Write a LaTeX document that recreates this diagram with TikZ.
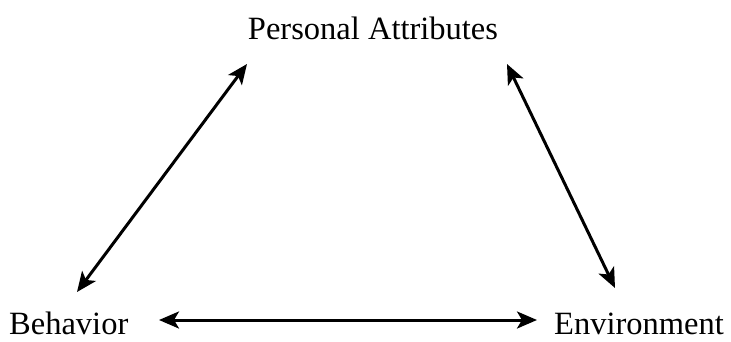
\documentclass[tikz,border=0pt]{standalone}
\usepackage{fontspec}
\setmainfont{Liberation Serif}
\usetikzlibrary{arrows.meta}
\begin{document}
\begin{tikzpicture}[x=1pt,y=-1pt,
  lbl/.style={font=\fontsize{32.5}{38}\selectfont, inner sep=0pt, anchor=base},
  tip/.style={Stealth[length=20pt,width=17pt,inset=5pt]},
  link/.style={line width=3pt, {Stealth[length=20pt,width=17pt,inset=5pt]}-{Stealth[length=20pt,width=17pt,inset=5pt]}}]
\useasboundingbox (0,0) rectangle (731,341);
\node[lbl] (pa) at (373,39) {Personal Attributes};
\node[lbl, anchor=base west] (beh) at (9,334) {Behavior};
\node[lbl, anchor=base west] (env) at (554,334) {Environment};
\coordinate (l1) at (247,64);
\coordinate (l2) at (77,292);
\coordinate (r1) at (507,64);
\coordinate (r2) at (615,288);
\coordinate (h1) at (159,320);
\coordinate (h2) at (537,320);
\draw[link] (l1) -- (l2);
\draw[link] (r1) -- (r2);
\draw[link] (h1) -- (h2);
\end{tikzpicture}
\end{document}
